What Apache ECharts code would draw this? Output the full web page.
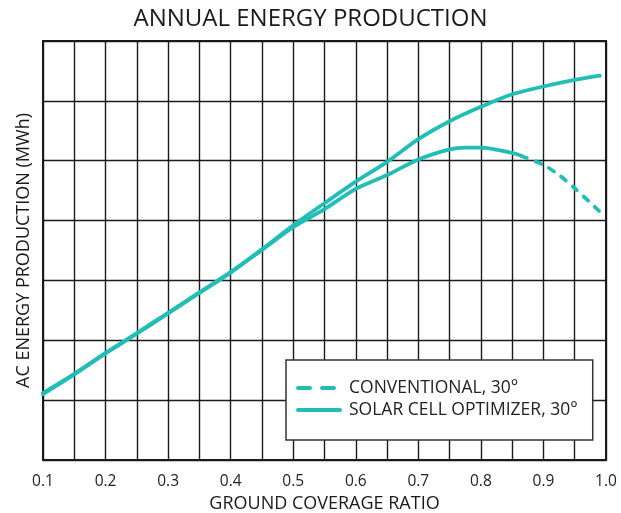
<!DOCTYPE html>
<html>
<head>
<meta charset="utf-8">
<script src="https://cdn.jsdelivr.net/npm/echarts@6/dist/echarts.min.js"></script>
<style>
html,body{margin:0;padding:0;background:#fff;}
#chart{width:621px;height:513px;}
</style>
</head>
<body>
<div id="chart"></div>
<script>
// Data
const titleText = 'ANNUAL ENERGY PRODUCTION';
const xName = 'GROUND COVERAGE RATIO';
const yName = 'AC ENERGY PRODUCTION (MWh)';
const solarName = 'SOLAR CELL OPTIMIZER, 30°';
const convName = 'CONVENTIONAL, 30°';

const solarX = [0.1,0.15,0.2,0.25,0.3,0.35,0.4,0.45,0.5,0.55,0.6,0.65,0.7,0.75,0.8,0.85,0.9,0.95,0.99];
const solarY = [1.12,1.44,1.79,2.12,2.46,2.80,3.14,3.52,3.92,4.29,4.65,4.98,5.36,5.66,5.90,6.11,6.24,6.35,6.42];

const convSolidX = [0.1,0.15,0.2,0.25,0.3,0.35,0.4,0.45,0.5,0.55,0.6,0.65,0.7,0.75,0.775,0.8,0.85,0.865];
const convSolidY = [1.10,1.43,1.78,2.11,2.45,2.79,3.13,3.51,3.89,4.19,4.53,4.76,5.02,5.19,5.22,5.22,5.13,5.08];
const convDashX = [0.865,0.9,0.925,0.95,0.99];
const convDashY = [5.08,4.93,4.76,4.54,4.15];

const xMin = 0.1, xMax = 1.0, xStep = 0.05;
const yMin = 0, yMax = 7, yStep = 1;

const teal = '#22bdb5';
const ink = '#1a1a1a';
const font = 'Open Sans';

function pairs(xs, ys){ return xs.map((x,i)=>[x, ys[i]]); }

const chart = echarts.init(document.getElementById('chart'));
chart.setOption({
  animation: false,
  backgroundColor: '#fff',
  title: {
    text: titleText, left: 'center', top: 2,
    textStyle: {fontFamily: font, fontSize: 24, fontWeight: 'normal', color: ink}
  },
  grid: {left: 43, right: 15, top: 41, bottom: 53, show: true, borderColor: ink, borderWidth: 2,
         backgroundColor: 'transparent', containLabel: false, outerBoundsMode: 'none'},
  xAxis: {
    type: 'value', min: xMin, max: xMax, interval: xStep,
    name: xName, nameLocation: 'middle', nameGap: 34,
    nameTextStyle: {fontFamily: font, fontSize: 18, color: ink},
    axisLine: {show: false}, axisTick: {show: false},
    axisLabel: {
      fontFamily: font, fontSize: 15.5, color: '#222', margin: 14,
      formatter: v => (Math.round(v*100) % 10 === 0) ? v.toFixed(1) : ''
    },
    splitLine: {show: true, lineStyle: {color: ink, width: 1.4}}
  },
  yAxis: {
    type: 'value', min: yMin, max: yMax, interval: yStep,
    name: yName, nameLocation: 'middle', nameGap: 10,
    nameTextStyle: {fontFamily: font, fontSize: 18, color: ink},
    axisLine: {show: false}, axisTick: {show: false}, axisLabel: {show: false},
    splitLine: {show: true, lineStyle: {color: ink, width: 1.4}}
  },
  legend: {
    orient: 'vertical', left: 286, top: 360,
    padding: [19, 15, 21, 10], itemGap: 4,
    itemWidth: 42, itemHeight: 18,
    backgroundColor: '#fff', borderColor: '#333', borderWidth: 1.5,
    textStyle: {fontFamily: font, fontSize: 17.5, lineHeight: 18, color: '#222', padding: [0,0,0,4]},
    data: [
      {name: convName, itemStyle: {opacity: 0}, lineStyle: {type: [12, 12], width: 4, cap: 'round', color: teal}},
      {name: solarName, itemStyle: {opacity: 0}, lineStyle: {type: 'solid', width: 4, cap: 'round', color: teal}}
    ]
  },
  series: [
    {name: 'convSolid', type: 'line', data: pairs(convSolidX, convSolidY), smooth: 0.3, symbol: 'none',
     lineStyle: {color: teal, width: 3.8, cap: 'round'}, itemStyle: {color: teal}},
    {name: convName, type: 'line', data: pairs(convDashX, convDashY), smooth: 0.3, symbol: 'none',
     lineStyle: {color: teal, width: 3.8, type: [6, 9], cap: 'round'}, itemStyle: {color: teal}},
    {name: solarName, type: 'line', data: pairs(solarX, solarY), smooth: 0.3, symbol: 'none',
     lineStyle: {color: teal, width: 3.8, cap: 'round'}, itemStyle: {color: teal}}
  ]
});
</script>
</body>
</html>
